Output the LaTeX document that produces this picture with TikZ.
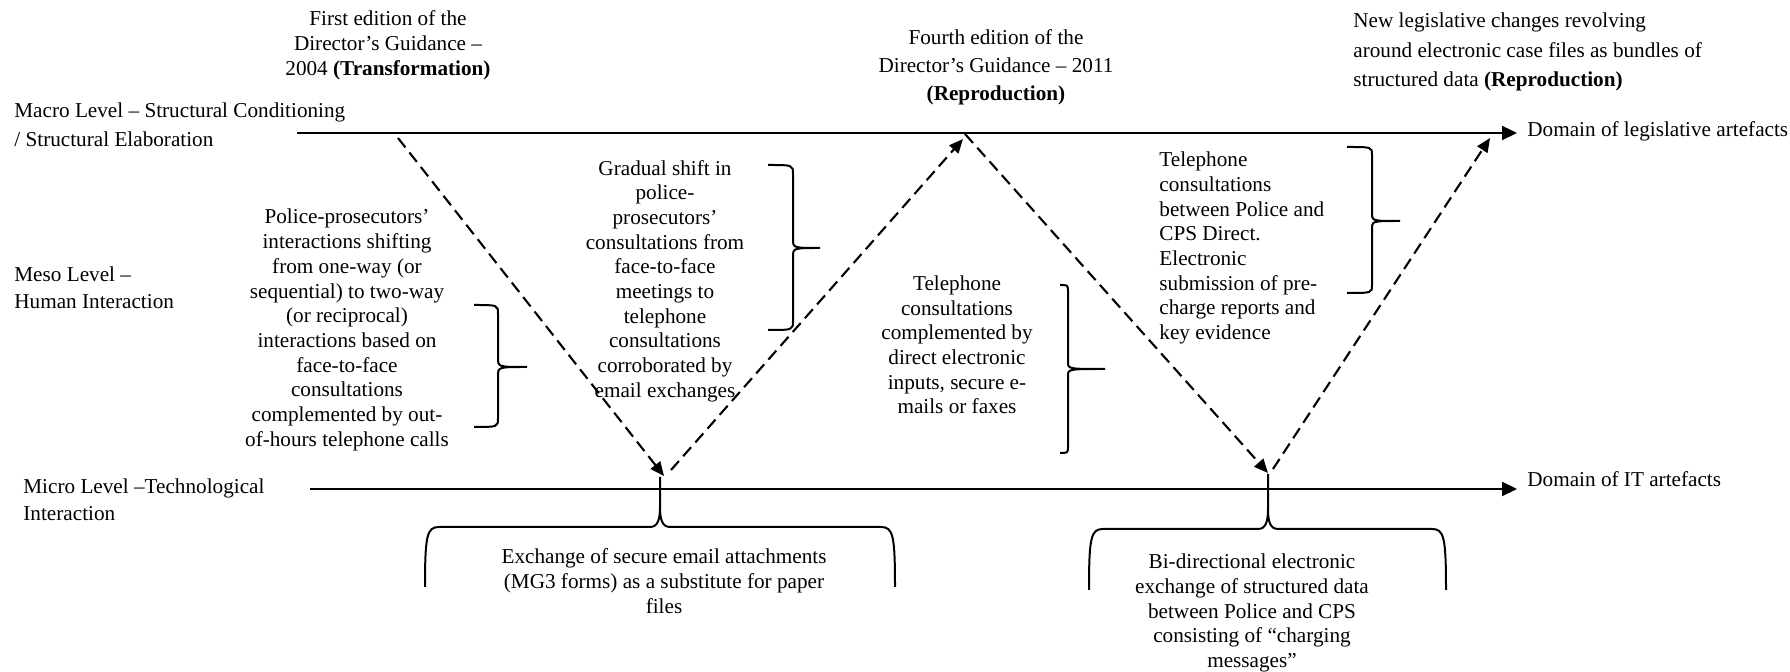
\documentclass[tikz,border=0pt]{standalone}
\usepackage{fontspec}
\setmainfont{Liberation Serif}
\usetikzlibrary{arrows.meta}

% right-pointing curly brace: end x, spine x, tip x, top y, tip y, bottom y, corner
\newcommand\rbrc[7]{%
  \draw[brc] (#1,#4) .. controls (#2,#4) .. (#2,#4+#7) -- (#2,#5-#7)
    .. controls (#2,#5) .. (#3,#5) .. controls (#2,#5) .. (#2,#5+#7)
    -- (#2,#6-#7) .. controls (#2,#6) .. (#1,#6);}
% wide brace opening downwards, its spike rising to the IT axis:
% left x, right x, spike x, shoulder y, foot y, spike top y
\newcommand\ubrc[6]{%
  \draw[brc] (#1,#5) .. controls (#1,#4+8) and (#1+2,#4) .. (#1+14,#4)
    -- (#3-10,#4) .. controls (#3-2,#4) and (#3,#4-8) .. (#3,#4-20) -- (#3,#6);
  \draw[brc] (#2,#5) .. controls (#2,#4+8) and (#2-2,#4) .. (#2-14,#4)
    -- (#3+10,#4) .. controls (#3+2,#4) and (#3,#4-8) .. (#3,#4-20);}

\begin{document}
\begin{tikzpicture}[x=0.5pt,y=-0.5pt,
  txt/.style={inner sep=0pt, align=center, font=\fontsize{10.6pt}{12.35pt}\selectfont},
  lbl/.style={txt, align=left, anchor=west},
  axis/.style={line width=1.1pt, shorten >=5pt, -{Triangle[length=7.5pt,width=7pt]}},
  flow/.style={line width=1.05pt, dash pattern=on 6pt off 3.2pt,
    -{Triangle[length=7pt,width=6pt]}},
  brc/.style={line width=1pt}]

\useasboundingbox (0,0) rectangle (1790,672);
\fill[white] (0,0) rectangle (1790,672);

% level labels
\node[lbl, font=\fontsize{10.6pt}{14.5pt}\selectfont] (macro) at (14,125)
  {Macro Level – Structural Conditioning\\/ Structural Elaboration};
\node[lbl, font=\fontsize{10.6pt}{13.5pt}\selectfont] (meso) at (14,288)
  {Meso Level –\\Human Interaction};
\node[lbl, font=\fontsize{10.6pt}{13.5pt}\selectfont] (micro) at (23,500)
  {Micro Level –Technological\\Interaction};

% domains
\node[lbl] (domL) at (1527,131) {Domain of legislative artefacts};
\node[lbl] (domIT) at (1527,479) {Domain of IT artefacts};

% legislative milestones
\node[txt, font=\fontsize{10.6pt}{12.5pt}\selectfont] (ed1) at (388,45)
  {First edition of the\\Director’s Guidance –\\2004 \textbf{(Transformation)}};
\node[txt, font=\fontsize{10.6pt}{14pt}\selectfont] (ed4) at (996,67)
  {Fourth edition of the\\Director’s Guidance – 2011\\\textbf{(Reproduction)}};
\node[lbl, font=\fontsize{10.6pt}{14.75pt}\selectfont] (newleg) at (1353,52)
  {New legislative changes revolving\\around electronic case files as bundles of\\structured data \textbf{(Reproduction)}};

% human interaction
\node[txt] (police) at (347,330)
  {Police-prosecutors’\\interactions shifting\\from one-way (or\\sequential) to two-way\\(or reciprocal)\\interactions based on\\face-to-face\\consultations\\complemented by out-\\of-hours telephone calls};
\node[txt] (gradual) at (665,281)
  {Gradual shift in\\police-\\prosecutors’\\consultations from\\face-to-face\\meetings to\\telephone\\consultations\\corroborated by\\email exchanges};
\node[txt] (telA) at (957,345)
  {Telephone\\consultations\\complemented by\\direct electronic\\inputs, secure e-\\mails or faxes};
\node[lbl] (telB) at (1159,248)
  {Telephone\\consultations\\between Police and\\CPS Direct.\\Electronic\\submission of pre-\\charge reports and\\key evidence};

% technological interaction
\node[txt, font=\fontsize{10.6pt}{12.5pt}\selectfont] (mg3) at (664,581)
  {Exchange of secure email attachments\\(MG3 forms) as a substitute for paper\\files};
\node[txt] (bidir) at (1252,613)
  {Bi-directional electronic\\exchange of structured data\\between Police and CPS\\consisting of “charging\\messages”};

% axes
\coordinate (mA) at (297,133);
\coordinate (iA) at (310,489);
\draw[axis] (mA) -- (domL.west |- mA);
\draw[axis] (iA) -- (domIT.west |- iA);

% transitions between the levels
\coordinate (p1) at (398,138);
\coordinate (v1) at (664,476);
\coordinate (v1b) at (671,470);
\coordinate (p2) at (963,139);
\coordinate (p2b) at (965,134);
\coordinate (v2) at (1268,473);
\coordinate (v2b) at (1273,469);
\coordinate (p3) at (1490,138);
\draw[flow] (p1) -- (v1);
\draw[flow] (v1b) -- (p2);
\draw[flow] (p2b) -- (v2);
\draw[flow] (v2b) -- (p3);

% braces
\rbrc{474}{498}{527}{305}{367}{427}{9}
\rbrc{768}{793}{820}{165}{248}{330}{9}
\rbrc{1060}{1068}{1105}{285}{369}{453}{7}
\rbrc{1347}{1372}{1400}{147}{221}{293}{8}
\ubrc{425}{895}{660}{527}{587}{477}
\ubrc{1089}{1446}{1268}{529}{590}{474}
\end{tikzpicture}
\end{document}
